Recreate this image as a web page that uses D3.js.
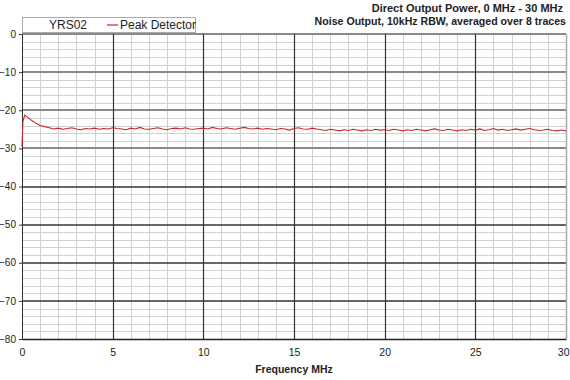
<!DOCTYPE html>
<html><head><meta charset="utf-8">
<script src="https://cdn.jsdelivr.net/npm/d3@7/dist/d3.min.js"></script>
<style>html,body{margin:0;padding:0;background:#fff;}svg{display:block;font-family:"Liberation Sans",Arial,sans-serif;}</style>
</head><body>
<script>
const titleLines = ["Direct Output Power, 0 MHz - 30 MHz", "Noise Output, 10kHz RBW, averaged over 8 traces"];
const xAxisTitle = "Frequency MHz";
const legendLabels = ["YRS02", "Peak Detector"];
const xTicks = [0, 5, 10, 15, 20, 25, 30];
const yTicks = [0, -10, -20, -30, -40, -50, -60, -70, -80];
const freqMHz = [0, 0.05, 0.15, 0.3, 0.45, 0.6, 0.8, 1.0, 1.25, 1.5,
 1.75, 2.0, 2.25, 2.5, 2.75, 3.0, 3.25, 3.5, 3.75, 4.0, 4.25, 4.5, 4.75,
 5.0, 5.25, 5.5, 5.75, 6.0, 6.25, 6.5, 6.75, 7.0, 7.25, 7.5, 7.75,
 8.0, 8.25, 8.5, 8.75, 9.0, 9.25, 9.5, 9.75, 10.0, 10.25, 10.5, 10.75,
 11.0, 11.25, 11.5, 11.75, 12.0, 12.25, 12.5, 12.75, 13.0, 13.25, 13.5, 13.75,
 14.0, 14.25, 14.5, 14.75, 15.0, 15.25, 15.5, 15.75, 16.0, 16.25, 16.5, 16.75,
 17.0, 17.25, 17.5, 17.75, 18.0, 18.25, 18.5, 18.75, 19.0, 19.25, 19.5, 19.75,
 20.0, 20.25, 20.5, 20.75, 21.0, 21.25, 21.5, 21.75, 22.0, 22.25, 22.5, 22.75,
 23.0, 23.25, 23.5, 23.75, 24.0, 24.25, 24.5, 24.75, 25.0, 25.25, 25.5, 25.75,
 26.0, 26.25, 26.5, 26.75, 27.0, 27.25, 27.5, 27.75, 28.0, 28.25, 28.5, 28.75,
 29.0, 29.25, 29.5, 29.75, 30.0];
const peakDb = [-29.5, -23.0, -21.3, -21.8, -22.4, -22.9, -23.5, -24.0, -24.3, -24.6,
 -24.9, -24.7, -25.0, -24.8, -24.6, -24.9, -25.1, -24.8, -24.9, -24.7, -25.0, -24.8, -24.9,
 -24.6, -24.8, -24.9, -25.1, -24.7, -24.9, -24.5, -24.9, -25.0, -24.8, -24.6, -24.9,
 -25.1, -24.8, -24.7, -24.9, -24.6, -24.9, -25.0, -24.8, -24.7, -24.9, -24.5, -24.8,
 -24.9, -24.6, -24.8, -25.0, -24.7, -24.5, -24.8, -24.9, -24.7, -25.0, -24.8, -24.9,
 -25.1, -24.8, -24.9, -25.2, -24.8, -24.6, -24.9, -25.0, -24.7, -24.9, -25.1, -25.3,
 -25.0, -25.2, -25.4, -25.1, -25.3, -25.0, -25.2, -25.4, -25.1, -25.3, -25.0, -25.2,
 -25.1, -25.3, -25.0, -25.2, -25.4, -25.1, -25.3, -25.0, -25.2, -25.4, -25.1, -24.9,
 -25.2, -25.3, -25.0, -25.2, -25.4, -25.1, -25.3, -25.0, -25.2, -24.9, -25.3, -25.1,
 -24.8, -25.2, -25.0, -25.3, -25.1, -24.9, -25.2, -25.0, -24.8, -25.1, -25.3, -25.2,
 -25.0, -25.3, -25.4, -25.2, -25.4];
const minorX = [1,2,3,4,6,7,8,9,11,12,13,14,16,17,18,19,21,22,23,24,26,27,28,29];
const minorY = [-2,-4,-6,-8,-12,-14,-16,-18,-22,-24,-26,-28,-32,-34,-36,-38,-42,-44,-46,-48,-52,-54,-56,-58,-62,-64,-66,-68,-72,-74,-76,-78];

const W = 570, H = 380;
const L = 22, R = 566, T = 34, B = 339;
const x = d3.scaleLinear().domain([0, 30]).range([L, R]);
const y = d3.scaleLinear().domain([-80, 0]).range([B, T]);

const svg = d3.select("body").append("svg").attr("width", W).attr("height", H);

// minor grid
svg.append("g").selectAll("line").data(minorY).join("line")
  .attr("x1", L).attr("x2", R).attr("y1", d => Math.round(y(d)) + 0.5).attr("y2", d => Math.round(y(d)) + 0.5)
  .attr("stroke", "#d0d0d0").attr("stroke-width", 1);
svg.append("g").selectAll("line").data(minorX).join("line")
  .attr("y1", T).attr("y2", B).attr("x1", d => Math.round(x(d)) + 0.5).attr("x2", d => Math.round(x(d)) + 0.5)
  .attr("stroke", "#d0d0d0").attr("stroke-width", 1);

// major horizontal grid
svg.append("g").selectAll("line").data(yTicks.filter(d => d > -80)).join("line")
  .attr("x1", L).attr("x2", R).attr("y1", d => Math.round(y(d))).attr("y2", d => Math.round(y(d)))
  .attr("stroke", d => d >= -30 ? "#8a8a8a" : "#333")
  .attr("stroke-width", d => d >= -30 ? 2 : 1.3);
// major vertical grid
svg.append("g").selectAll("line").data(xTicks.filter(d => d > 0 && d < 30)).join("line")
  .attr("y1", T).attr("y2", B).attr("x1", d => Math.round(x(d)) + 0.5).attr("x2", d => Math.round(x(d)) + 0.5)
  .attr("stroke", "#333").attr("stroke-width", 1.2);
// right border
svg.append("line").attr("x1", R + 0.5).attr("x2", R + 0.5).attr("y1", T).attr("y2", B)
  .attr("stroke", "#aaa").attr("stroke-width", 1.5);

// axes
const yAxis = d3.axisLeft(y).tickValues(yTicks).tickSize(3).tickFormat(d3.format("d"));
const gy = svg.append("g").attr("transform", `translate(${L},0)`).call(yAxis);
gy.select(".domain").attr("stroke", "#333");
gy.selectAll(".tick line").attr("stroke", "#333");
gy.selectAll("text").attr("font-size", 10).attr("fill", "#222").attr("x", -6)
  .attr("font-family", '"Liberation Sans",Arial,sans-serif');

const xAxis = d3.axisBottom(x).tickValues(xTicks).tickSize(0).tickFormat(d3.format("d"));
const gx = svg.append("g").attr("transform", `translate(0,${B})`).call(xAxis);
gx.select(".domain").attr("stroke", "#222").attr("stroke-width", 1.3);
gx.selectAll("text").attr("font-size", 10.5).attr("fill", "#222").attr("y", 10)
  .attr("font-family", '"Liberation Sans",Arial,sans-serif')
  .attr("text-anchor", d => d === 30 ? "end" : "middle")
  .attr("dx", d => d === 30 ? 3 : 0);

// trace
const line = d3.line().x((d, i) => x(freqMHz[i])).y(d => y(d));
svg.append("path").datum(peakDb).attr("d", line)
  .attr("fill", "none").attr("stroke", "#c8262c").attr("stroke-width", 1.1);

// legend
const lg = svg.append("g");
lg.append("rect").attr("x", 22.5).attr("y", 17.5).attr("width", 173).attr("height", 15)
  .attr("fill", "#fff").attr("stroke", "#aaa");
lg.append("text").attr("x", 49).attr("y", 29).attr("font-size", 12).attr("fill", "#222").text(legendLabels[0]);
lg.append("line").attr("x1", 107).attr("x2", 118).attr("y1", 25).attr("y2", 25)
  .attr("stroke", "#c8262c").attr("stroke-width", 1.2);
lg.append("text").attr("x", 120).attr("y", 29).attr("font-size", 12).attr("fill", "#222").text(legendLabels[1]);

// title
svg.append("text").attr("x", 563).attr("y", 12).attr("text-anchor", "end")
  .attr("font-size", 11).attr("font-weight", "bold").attr("fill", "#222").text(titleLines[0]);
svg.append("text").attr("x", 566).attr("y", 25).attr("text-anchor", "end")
  .attr("font-size", 10.6).attr("font-weight", "bold").attr("fill", "#222").text(titleLines[1]);

// x axis title
svg.append("text").attr("x", 294).attr("y", 373).attr("text-anchor", "middle")
  .attr("font-size", 10.5).attr("font-weight", "bold").attr("fill", "#222").text(xAxisTitle);
</script>
</body></html>
